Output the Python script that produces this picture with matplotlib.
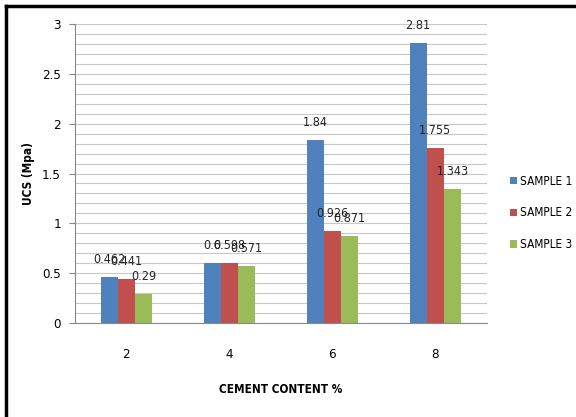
import numpy as np
import matplotlib.pyplot as plt
from matplotlib.lines import Line2D
from matplotlib.ticker import MultipleLocator

plt.rcParams['font.family'] = ['DejaVu Sans']
plt.rcParams['font.stretch'] = 'condensed'

# UCS test results per cement content
cement = ['2', '4', '6', '8']
sample1 = [0.462, 0.6, 1.84, 2.81]
sample2 = [0.441, 0.598, 0.926, 1.755]
sample3 = [0.29, 0.571, 0.871, 1.343]
series = ['SAMPLE 1', 'SAMPLE 2', 'SAMPLE 3']
colors = ['#4F81BD', '#C0504D', '#9BBB59']

fig = plt.figure(figsize=(5.76, 4.17), dpi=100)
ax = fig.add_axes([0.130, 0.2254, 0.715, 0.717])

x = np.arange(len(cement))
w = 1 / 6
for i, (vals, name, c) in enumerate(zip([sample1, sample2, sample3], series, colors)):
    bars = ax.bar(x + (i - 1) * w, vals, w, color=c, label=name, zorder=3)
    for b, v in zip(bars, vals):
        ax.annotate(f'{v:g}', (b.get_x() + b.get_width() / 2, v),
                    xytext=(0, 8), textcoords='offset points',
                    ha='center', va='bottom', fontsize=9, color='#222222')

ax.set_xlim(-0.5, len(cement) - 0.5)
ax.set_ylim(0, 3)
ax.yaxis.set_major_locator(MultipleLocator(0.5))
ax.yaxis.set_minor_locator(MultipleLocator(0.1))
ax.yaxis.set_major_formatter(lambda v, p: f'{v:g}')
ax.grid(axis='y', which='both', color='#c8c8c8', lw=0.8, zorder=0)
ax.set_xticks(x, cement)
ax.tick_params(axis='x', length=0, pad=18, labelsize=9.5)
ax.tick_params(axis='y', which='major', length=4, color='#888888', labelsize=9.5, pad=6)
ax.tick_params(axis='y', which='minor', length=0)
for s in ['top', 'right']:
    ax.spines[s].set_visible(False)
for s in ['left', 'bottom']:
    ax.spines[s].set_color('#888888')
    ax.spines[s].set_linewidth(0.8)

ax.set_ylabel('UCS (Mpa)', fontsize=8.5, fontweight='bold', labelpad=5)
ax.set_xlabel('CEMENT CONTENT %', fontsize=8.5, fontweight='bold', labelpad=16)

ax.legend(loc='center left', bbox_to_anchor=(1.03, 0.368), frameon=False,
          fontsize=8.5, handlelength=0.6, handleheight=0.6,
          handletextpad=0.3, labelspacing=1.6)

# outer frame on top and left edges
fig.add_artist(Line2D([6 / 576, 1], [1 - 6 / 417] * 2, color='black', lw=2.5, transform=fig.transFigure))
fig.add_artist(Line2D([6 / 576] * 2, [0, 1 - 6 / 417], color='black', lw=2.5, transform=fig.transFigure))

fig.savefig('out.png', dpi=100)
